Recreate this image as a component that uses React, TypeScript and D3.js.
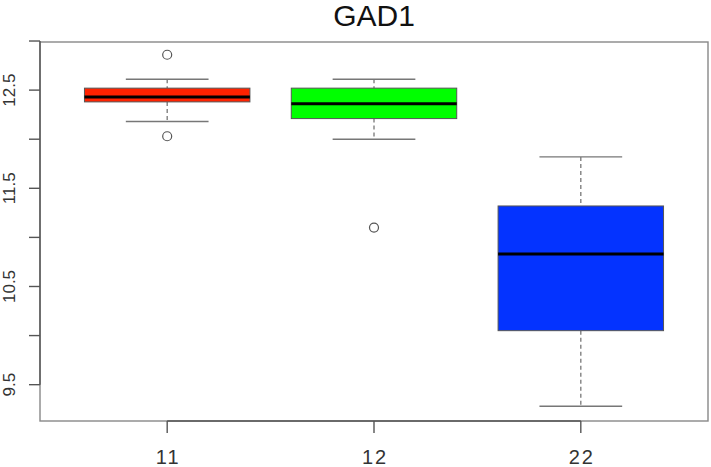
import React from "react";
import * as d3 from "d3";

const categories = ["11", "12", "22"];
const lowerWhisker = [12.18, 12.0, 9.28];
const q1 = [12.38, 12.21, 10.05];
const medians = [12.43, 12.36, 10.83];
const q3 = [12.52, 12.52, 11.32];
const upperWhisker = [12.61, 12.61, 11.82];
const outliers: number[][] = [[12.86, 12.03], [11.1], []];
const fills = ["#ff2200", "#00ff00", "#0433ff"];
const yTicks = [9.5, 10, 10.5, 11, 11.5, 12, 12.5, 13];
const yLabels = [9.5, 10.5, 11.5, 12.5];
const title = "GAD1";

const W = 711;
const H = 467;

export default function App() {
  const x = d3.scaleLinear().domain([0.385, 3.615]).range([40, 708]);
  const y = d3.scaleLinear().domain([9.13, 12.99]).range([421, 42]);
  const unit = x(2) - x(1);
  const boxW = 0.8 * unit;
  const capW = 0.4 * unit;
  const axisCol = "#555";
  const font = "Liberation Sans, Arial, sans-serif";

  return (
    <svg width={W} height={H} style={{ position: "absolute", left: 0, top: 0, background: "#fff" }}>
      <text x={(x.range()[0] + x.range()[1]) / 2 - 24 + 24} y={26} textAnchor="middle" fontFamily={font} fontSize={30} fill="#111">
        {title}
      </text>
      <rect x={x.range()[0]} y={y.range()[1]} width={x.range()[1] - x.range()[0]} height={y.range()[0] - y.range()[1]} fill="none" stroke="#888" strokeWidth={1.4} />
      <line x1={x.range()[0]} x2={x.range()[0]} y1={y(yTicks[0])} y2={y(yTicks[yTicks.length - 1])} stroke={axisCol} strokeWidth={1.4} />
      {yTicks.map((t) => (
        <line key={t} x1={x.range()[0] - 11} x2={x.range()[0]} y1={y(t)} y2={y(t)} stroke={axisCol} strokeWidth={1.4} />
      ))}
      {yLabels.map((t) => (
        <text key={t} transform={`translate(15,${y(t)}) rotate(-90)`} textAnchor="middle" fontFamily={font} fontSize={17} fill="#333">
          {t.toFixed(1)}
        </text>
      ))}
      <line x1={x(1)} x2={x(3)} y1={y.range()[0]} y2={y.range()[0]} stroke={axisCol} strokeWidth={1.4} />
      {categories.map((c, i) => (
        <g key={c}>
          <line x1={x(i + 1)} x2={x(i + 1)} y1={y.range()[0]} y2={y.range()[0] + 12} stroke={axisCol} strokeWidth={1.4} />
          <text x={x(i + 1) + 1} y={y.range()[0] + 43} textAnchor="middle" fontFamily={font} fontSize={20} fill="#333" letterSpacing={2}>
            {c}
          </text>
        </g>
      ))}
      {categories.map((c, i) => {
        const cx = x(i + 1);
        return (
          <g key={"b" + c}>
            <line x1={cx} x2={cx} y1={y(upperWhisker[i])} y2={y(q3[i])} stroke="#777" strokeWidth={1.3} strokeDasharray="4,3" />
            <line x1={cx} x2={cx} y1={y(q1[i])} y2={y(lowerWhisker[i])} stroke="#777" strokeWidth={1.3} strokeDasharray="4,3" />
            <line x1={cx - capW / 2} x2={cx + capW / 2} y1={y(upperWhisker[i])} y2={y(upperWhisker[i])} stroke="#777" strokeWidth={1.4} />
            <line x1={cx - capW / 2} x2={cx + capW / 2} y1={y(lowerWhisker[i])} y2={y(lowerWhisker[i])} stroke="#777" strokeWidth={1.4} />
            <rect x={cx - boxW / 2} y={y(q3[i])} width={boxW} height={y(q1[i]) - y(q3[i])} fill={fills[i]} stroke="#555" strokeWidth={1} />
            <line x1={cx - boxW / 2} x2={cx + boxW / 2} y1={y(medians[i])} y2={y(medians[i])} stroke="#000" strokeWidth={3} />
            {outliers[i].map((o, j) => (
              <circle key={j} cx={cx} cy={y(o)} r={4.5} fill="none" stroke="#555" strokeWidth={1.2} />
            ))}
          </g>
        );
      })}
    </svg>
  );
}
